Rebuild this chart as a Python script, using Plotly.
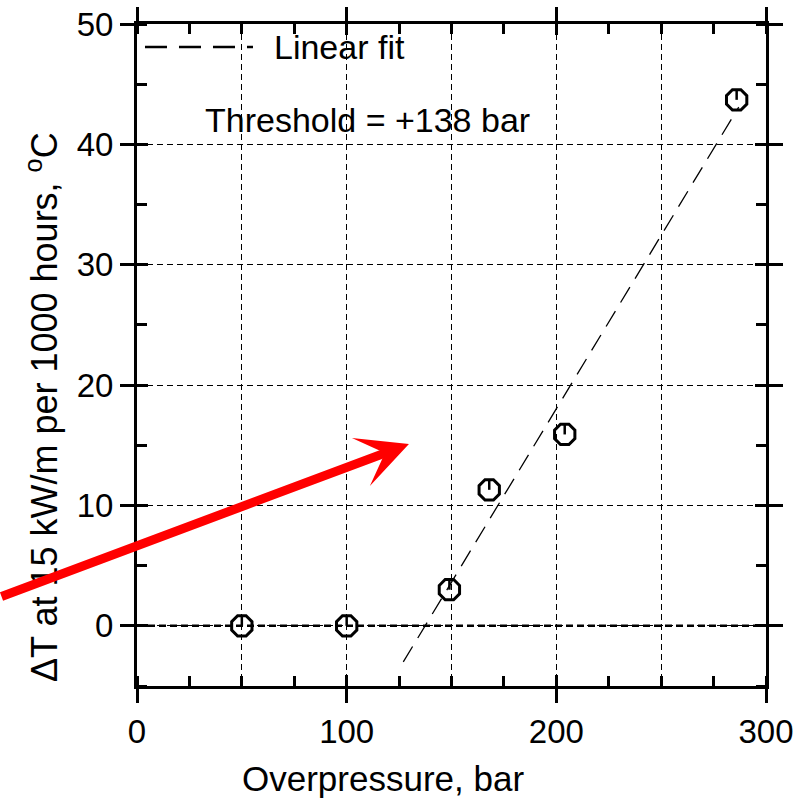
import plotly.graph_objects as go

# ---- data ----
pressure = [50, 100, 149, 168, 204, 286]          # Overpressure, bar
delta_t = [0.0, 0.0, 3.0, 11.3, 15.9, 43.7]       # ΔT, °C
tick_up = [0.85, 0.85, 0.85, 0.85, 0.85, 0.85]    # small upward error ticks
fit_x = [127, 287]
fit_y = [-3.0, 43.1]
x_major = [0, 100, 200, 300]
x_grid = [50, 150, 250]
y_major = [0, 10, 20, 30, 40, 50]
threshold_text = "Threshold = +138 bar"
arrow_tip = (129.7, 15.1)

FONT = "Liberation Sans, Arial, Helvetica, sans-serif"
GRID_DASH = "6px,4px"

fig = go.Figure()

fig.add_trace(go.Scatter(
    x=fit_x, y=fit_y, mode="lines",
    line=dict(color="black", width=1.3, dash="18px,10px"),
    showlegend=False, hoverinfo="skip",
))
fig.add_trace(go.Scatter(
    x=pressure, y=delta_t, mode="markers",
    marker=dict(symbol="octagon-open", size=22, color="black",
                line=dict(color="black", width=3)),
    error_y=dict(type="data", symmetric=False, array=tick_up,
                 arrayminus=[0] * len(tick_up), width=0, thickness=2.5,
                 color="black"),
    showlegend=False,
))
# invisible trace to anchor the overlay axes
fig.add_trace(go.Scatter(x=[], y=[], xaxis="x2", yaxis="y2", showlegend=False))

common_main = dict(
    showline=True, linewidth=3, linecolor="black", mirror="ticks",
    ticks="outside", ticklen=14, tickwidth=3, tickcolor="black",
    showgrid=False, zeroline=False, ticklabeloverflow="allow",
    tickfont=dict(family=FONT, size=33, color="black"),
)

fig.update_layout(
    width=808, height=804,
    margin=dict(l=137, r=42, t=24, b=118, autoexpand=False),
    paper_bgcolor="white", plot_bgcolor="white",
    showlegend=False,
    xaxis=dict(range=[0, 300], tickvals=x_major, **common_main,
               minor=dict(dtick=25, tick0=0, ticks="inside", ticklen=10,
                          tickwidth=2.5, tickcolor="black", showgrid=False)),
    yaxis=dict(range=[-5, 50], tickvals=y_major, **common_main,
               minor=dict(dtick=5, tick0=0, ticks="inside", ticklen=10,
                          tickwidth=2.5, tickcolor="black", showgrid=False)),
    xaxis2=dict(range=[0, 300], overlaying="x", anchor="y2", side="bottom",
                tickvals=[v for v in x_major if 0 < v < 300],
                ticks="inside", ticklen=11, tickwidth=3, tickcolor="black",
                mirror="ticks", showline=False, showticklabels=False,
                zeroline=False,
                showgrid=True, gridcolor="black", gridwidth=1, griddash=GRID_DASH,
                minor=dict(tickvals=x_grid, ticks="", showgrid=True,
                           gridcolor="black", gridwidth=1, griddash=GRID_DASH)),
    yaxis2=dict(range=[-5, 50], overlaying="y", anchor="x2", side="left",
                tickvals=y_major,
                ticks="inside", ticklen=11, tickwidth=3, tickcolor="black",
                mirror="ticks", showline=False, showticklabels=False,
                zeroline=False,
                showgrid=True, gridcolor="black", gridwidth=1, griddash=GRID_DASH),
)

# bold dashed zero reference line
fig.add_shape(type="line", xref="x domain", x0=0, x1=1, yref="y", y0=0, y1=0,
              line=dict(color="black", width=2.6, dash="7px,4px"), layer="below")

# legend (manual)
fig.add_shape(type="line", xref="paper", yref="paper", x0=0.0127, x1=0.1844,
              y0=0.9653, y1=0.9653, line=dict(color="black", width=2.5, dash="22px,12px"))
fig.add_annotation(text="Linear fit", xref="paper", yref="paper", x=0.214, y=0.9653,
                   xanchor="left", yanchor="middle", showarrow=False,
                   font=dict(family=FONT, size=34, color="black"))

fig.add_annotation(text=threshold_text, xref="paper", yref="paper", x=0.3657, y=0.855,
                   xanchor="center", yanchor="middle", showarrow=False,
                   font=dict(family=FONT, size=34, color="black"))

# axis titles
fig.add_annotation(text="Overpressure, bar", xref="paper", yref="paper",
                   x=0.391, y=-0.139, xanchor="center", yanchor="middle",
                   showarrow=False, font=dict(family=FONT, size=35, color="black"))
fig.add_annotation(text="ΔT at 15 kW/m per 1000 hours, <sup>o</sup>C",
                   xref="paper", yref="paper", x=-0.151, y=0.4215,
                   xanchor="center", yanchor="middle", textangle=-90,
                   showarrow=False, font=dict(family=FONT, size=36, color="black"))

# red arrow
fig.add_annotation(text="", x=arrow_tip[0], y=arrow_tip[1], xref="x", yref="y",
                   ax=-409, ay=153, showarrow=True, arrowhead=3, arrowsize=0.95,
                   arrowwidth=9, arrowcolor="red", standoff=0)

fig.write_html(
    "out.html",
    config={"displayModeBar": False},
    post_script="document.body.style.margin='0';document.body.style.overflow='hidden';",
)
